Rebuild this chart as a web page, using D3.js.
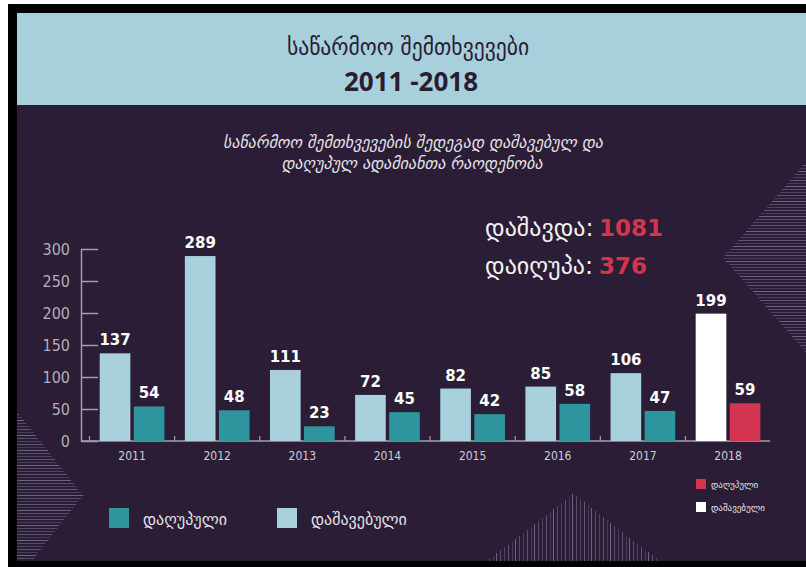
<!DOCTYPE html>
<html>
<head>
<meta charset="utf-8">
<script src="https://cdn.jsdelivr.net/npm/d3@7"></script>
<style>
  html, body { margin: 0; padding: 0; background: #ffffff; }
  svg { display: block; }
</style>
</head>
<body>
<svg id="chart" width="806" height="567"></svg>
<script>
// Workplace accidents in Georgia, 2011–2018: injured vs. killed per year
const years = ["2011", "2012", "2013", "2014", "2015", "2016", "2017", "2018"];
const injured = [137, 289, 111, 72, 82, 85, 106, 199];   // დაშავებული
const killed  = [54, 48, 23, 45, 42, 58, 47, 59];        // დაღუპული
const yTicks = [0, 50, 100, 150, 200, 250, 300];

const totalInjured = d3.sum(injured);  // 1081
const totalKilled = d3.sum(killed);    // 376

const C = {
  frame: "#000000",
  header: "#a7cfdc",
  body: "#2b1d35",
  dark: "#2a1c33",
  light: "#a8d0dd",
  teal: "#2e949e",
  red: "#d3344f",
  white: "#ffffff",
  axis: "#a29eab",
  tickText: "#b3afba",
  text: "#e4e2e8",
  stripe: ["#4c4562", "#5d5773", "#453d5a", "#6a647e", "#554e6b"]
};

const geo = "'DejaVu Sans', sans-serif";
const geoCond = "'DejaVu Sans Condensed', 'DejaVu Sans', sans-serif";
const narrow = "'Liberation Sans Narrow', 'DejaVu Sans Condensed', sans-serif";

const svg = d3.select("#chart");

// page frame
svg.append("rect").attr("x", 8).attr("y", 4).attr("width", 798).attr("height", 563).attr("fill", C.frame);
svg.append("rect").attr("x", 17).attr("y", 13).attr("width", 789).attr("height", 548).attr("fill", C.body);
svg.append("rect").attr("x", 17).attr("y", 13).attr("width", 789).attr("height", 92).attr("fill", C.header);

// decorative hatched triangles
const deco = svg.append("g").attr("shape-rendering", "crispEdges");
let i = 0;
for (let yy = 411; yy <= 560; yy += 3, i++) {
  const len = 66 - Math.abs(yy - 495) * 0.785;
  if (len <= 0) continue;
  deco.append("line").attr("x1", 17).attr("x2", 17 + len).attr("y1", yy + 0.5).attr("y2", yy + 0.5)
    .attr("stroke", C.stripe[i % 5]).attr("stroke-width", 1);
}
i = 0;
for (let yy = 162; yy <= 352; yy += 3, i++) {
  const x1 = 723 + Math.abs(yy - 257) * 0.87;
  if (x1 >= 806) continue;
  deco.append("line").attr("x1", x1).attr("x2", 806).attr("y1", yy + 0.5).attr("y2", yy + 0.5)
    .attr("stroke", C.stripe[i % 5]).attr("stroke-width", 1);
}
i = 0;
for (let xx = 485; xx <= 662; xx += 3.8, i++) {
  const y1 = 494 + Math.abs(xx - 573) / 1.29;
  if (y1 >= 561) continue;
  deco.append("line").attr("x1", Math.round(xx) + 0.5).attr("x2", Math.round(xx) + 0.5).attr("y1", y1).attr("y2", 561)
    .attr("stroke", C.stripe[i % 5]).attr("stroke-width", 1.4);
}

// titles
svg.append("text").attr("x", 408).attr("y", 55).attr("text-anchor", "middle")
  .attr("font-family", geoCond).attr("font-size", 24).attr("fill", C.dark)
  .text("საწარმოო შემთხვევები");
svg.append("text").attr("x", 411).attr("y", 91).attr("text-anchor", "middle")
  .attr("font-family", "'Open Sans', 'DejaVu Sans', sans-serif").attr("font-weight", 700)
  .attr("font-size", 26).attr("fill", C.dark)
  .text("2011 -2018");

svg.append("text").attr("x", 413).attr("y", 148).attr("text-anchor", "middle")
  .attr("font-family", geo).attr("font-style", "italic").attr("font-size", 16).attr("fill", C.text)
  .text("საწარმოო შემთხვევების შედეგად დაშავებულ და");
svg.append("text").attr("x", 412).attr("y", 169).attr("text-anchor", "middle")
  .attr("font-family", geo).attr("font-style", "italic").attr("font-size", 16).attr("fill", C.text)
  .text("დაღუპულ ადამიანთა რაოდენობა");

// scales
const x = d3.scaleBand().domain(years).range([89.5, 770.6]).paddingInner(0.24).paddingOuter(0.12);
const xs = d3.scaleBand().domain(["injured", "killed"]).range([0, x.bandwidth()]).paddingInner(0.1);
const y = d3.scaleLinear().domain([0, 300]).range([441, 249]);

// y axis
const yAxis = svg.append("g").attr("transform", "translate(81,0)")
  .call(d3.axisLeft(y).tickValues(yTicks).tickSizeInner(-17).tickSizeOuter(0).tickPadding(11));
yAxis.select(".domain").attr("stroke", C.axis).attr("stroke-width", 1.5);
yAxis.selectAll(".tick line").attr("stroke", C.axis).attr("stroke-width", 1.5);
yAxis.selectAll(".tick text").attr("font-family", narrow).attr("font-size", 16).attr("fill", C.tickText);

// baseline and separators between year groups
svg.append("line").attr("x1", 81).attr("x2", 770).attr("y1", y(0)).attr("y2", y(0))
  .attr("stroke", C.axis).attr("stroke-width", 1.5);
const bounds = years.map(d => x(d) - x.step() * x.paddingInner() / 2 - (d === years[0] ? x.step() * (x.paddingOuter() - x.paddingInner() / 2) : 0));
svg.append("g").selectAll("line").data(bounds).join("line")
  .attr("x1", d => d).attr("x2", d => d).attr("y1", y(0) - 5).attr("y2", y(0))
  .attr("stroke", C.axis).attr("stroke-width", 1.2);

// x axis labels
const xAxis = svg.append("g").attr("transform", `translate(0,${y(0)})`)
  .call(d3.axisBottom(x).tickSize(0).tickPadding(10));
xAxis.select(".domain").remove();
xAxis.selectAll(".tick text").attr("font-family", narrow).attr("font-size", 12).attr("fill", "#cfcdd4");

// bars
const rows = years.map((yr, k) => ({ year: yr, injured: injured[k], killed: killed[k] }));
const colorOf = (yr, key) => yr === "2018" ? (key === "injured" ? C.white : C.red) : (key === "injured" ? C.light : C.teal);
const groups = svg.append("g").selectAll("g").data(rows).join("g")
  .attr("transform", d => `translate(${x(d.year)},0)`);
const cells = groups.selectAll("g").data(d => ["injured", "killed"].map(key => ({ year: d.year, key, value: d[key] }))).join("g");
cells.append("rect")
  .attr("x", d => xs(d.key)).attr("width", xs.bandwidth())
  .attr("y", d => y(d.value)).attr("height", d => y(0) - y(d.value))
  .attr("fill", d => colorOf(d.year, d.key));
cells.append("text")
  .attr("x", d => xs(d.key) + xs.bandwidth() / 2).attr("y", d => y(d.value) - 8)
  .attr("text-anchor", "middle").attr("font-family", geo).attr("font-weight", 700)
  .attr("font-size", 15).attr("fill", "#ffffff")
  .text(d => d.value);

// totals
const totals = [
  { label: "დაშავდა:", value: totalInjured, y: 236 },
  { label: "დაიღუპა:", value: totalKilled, y: 274 }
];
const tg = svg.append("g").selectAll("g").data(totals).join("g");
tg.append("text").attr("x", 485).attr("y", d => d.y).attr("font-family", geo).attr("font-size", 24)
  .attr("fill", "#f2f1f4").text(d => d.label);
tg.append("text").attr("x", 599).attr("y", d => d.y).attr("font-family", geo).attr("font-weight", 700)
  .attr("font-size", 23).attr("fill", C.red).text(d => d.value);

// main legend
const legend = [
  { label: "დაღუპული", color: C.teal, x: 109 },
  { label: "დაშავებული", color: C.light, x: 277 }
];
const lg = svg.append("g").selectAll("g").data(legend).join("g");
lg.append("rect").attr("x", d => d.x).attr("y", 508).attr("width", 20).attr("height", 20).attr("fill", d => d.color);
lg.append("text").attr("x", d => d.x + 34).attr("y", 525).attr("font-family", geo).attr("font-size", 16)
  .attr("fill", C.text).text(d => d.label);

// 2018 legend
const legend18 = [
  { label: "დაღუპული", color: C.red, y: 479 },
  { label: "დაშავებული", color: C.white, y: 502 }
];
const lg2 = svg.append("g").selectAll("g").data(legend18).join("g");
lg2.append("rect").attr("x", 696).attr("y", d => d.y).attr("width", 10).attr("height", 10).attr("fill", d => d.color);
lg2.append("text").attr("x", 711).attr("y", d => d.y + 9).attr("font-family", geo).attr("font-size", 9)
  .attr("fill", C.text).text(d => d.label);
</script>
</body>
</html>
